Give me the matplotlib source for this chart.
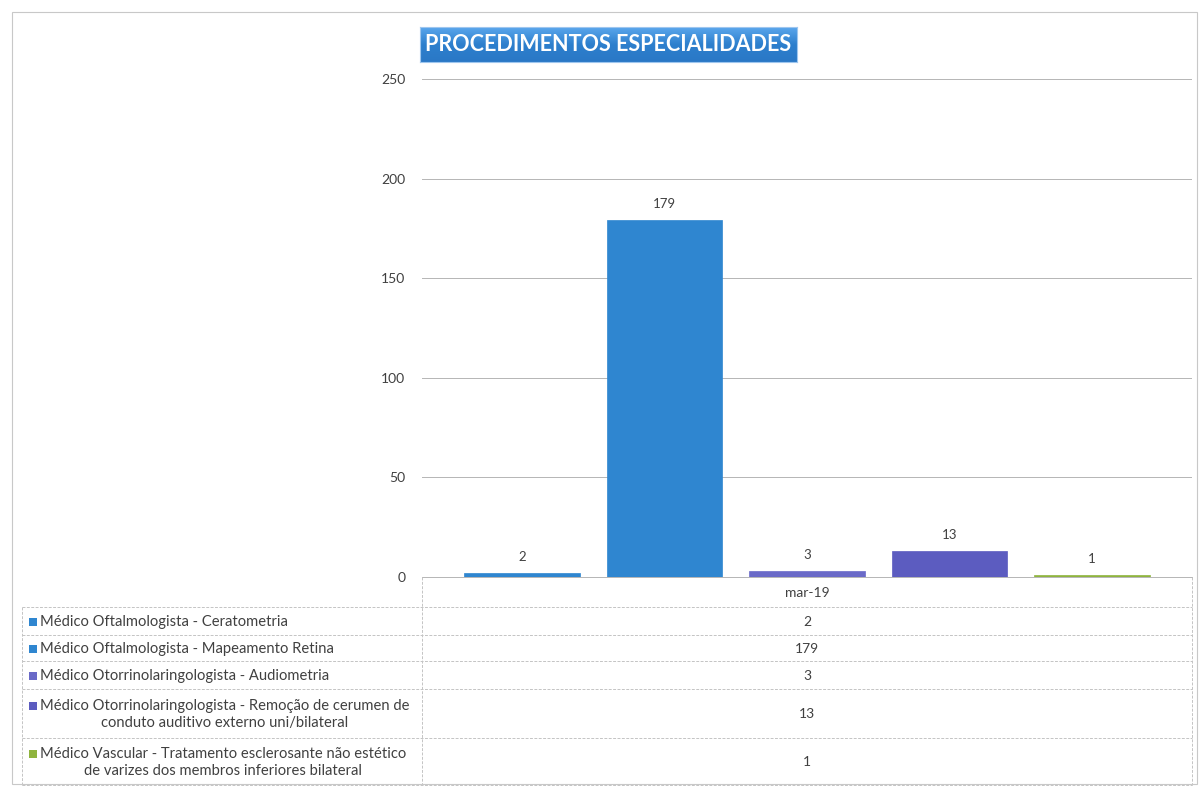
import matplotlib.pyplot as plt
import numpy as np
from matplotlib.patches import Rectangle
from matplotlib.colors import LinearSegmentedColormap

plt.rcParams['font.family'] = ['Lato', 'DejaVu Sans']

title = "PROCEDIMENTOS ESPECIALIDADES"
period = "mar-19"
series = [
    "Médico Oftalmologista - Ceratometria",
    "Médico Oftalmologista - Mapeamento Retina",
    "Médico Otorrinolaringologista - Audiometria",
    "Médico Otorrinolaringologista - Remoção de cerumen de\nconduto auditivo externo uni/bilateral",
    "Médico Vascular - Tratamento esclerosante não estético\nde varizes dos membros inferiores bilateral",
]
values = [2, 179, 3, 13, 1]
colors = ["#2f86d0", "#2f86d0", "#6a6ac8", "#5c5cc0", "#8fb43e"]
yticks = [0, 50, 100, 150, 200, 250]

W, H = 1199, 786
fig = plt.figure(figsize=(W / 100, H / 100), dpi=100)


def fx(px):
    return px / W


def fy(py):
    return 1 - py / H


# outer chart border
fig.add_artist(Rectangle((fx(12), fy(784)), fx(1185), 772 / H, transform=fig.transFigure,
                         fill=False, edgecolor="#c8c8c8", linewidth=0.8))

# main plot
ax = fig.add_axes([fx(422), fy(577), fx(770), (577 - 79) / H])
x = np.arange(len(values))
bars = ax.bar(x, values, width=0.81, color=colors, edgecolor=colors, linewidth=0.5, zorder=3)
for xi, v in zip(x, values):
    ax.text(xi, v + 5, str(v), ha="center", va="bottom", fontsize=9.5, color="#404040")
ax.set_ylim(0, 250)
ax.set_xlim(-0.70, 4.70)
ax.set_yticks(yticks)
ax.set_yticklabels([str(t) for t in yticks], fontsize=10, color="#404040")
ax.tick_params(axis="y", length=0, pad=12)
ax.set_xticks([])
ax.grid(axis="y", color="#b5b5b5", linewidth=0.7, zorder=0)
for s in ["top", "right", "left"]:
    ax.spines[s].set_visible(False)
ax.spines["bottom"].set_color("#b5b5b5")
ax.spines["bottom"].set_linewidth(0.7)

# title box with gradient
tax = fig.add_axes([fx(420), fy(62), fx(377), 35 / H])
grad = np.linspace(0, 1, 50).reshape(-1, 1)
cmap = LinearSegmentedColormap.from_list("tb", ["#5aa6ec", "#2d7fcd", "#2a78c6"])
tax.imshow(grad, aspect="auto", cmap=cmap, extent=[0, 1, 0, 1], origin="upper")
tax.set_xticks([])
tax.set_yticks([])
for s in tax.spines.values():
    s.set_color("#9ec6ee")
tax.text(0.5, 0.5, title, ha="center", va="center", fontsize=15.5, fontweight="bold",
         color="white", transform=tax.transAxes)

# data table below the plot
tb = fig.add_axes([0, 0, 1, 1], facecolor="none")
tb.set_xlim(0, W)
tb.set_ylim(H, 0)
tb.axis("off")
rows = [577, 607, 635, 661, 689, 738, 785]
lc = "#c4c4c4"
tb.plot([422, 422], [577, 785], color=lc, lw=0.7, ls=(0, (3, 1.5)))
tb.plot([1192, 1192], [577, 785], color=lc, lw=0.7, ls=(0, (3, 1.5)))
tb.plot([22, 22], [607, 785], color=lc, lw=0.7, ls=(0, (3, 1.5)))
for r in rows[1:]:
    tb.plot([22, 1192], [r, r], color=lc, lw=0.7, ls=(0, (3, 1.5)))
tb.text(807, (rows[0] + rows[1]) / 2 + 1, period, ha="center", va="center", fontsize=10, color="#404040")
for i, (lab, v, c) in enumerate(zip(series, values, colors)):
    yc = (rows[i + 1] + rows[i + 2]) / 2 + 1
    ytop = yc if "\n" not in lab else yc - 9
    tb.add_patch(Rectangle((29, ytop - 4), 8, 8, facecolor=c, edgecolor="none"))
    tb.text(40, yc, lab, ha="left", va="center", multialignment="center",
            fontsize=10.6, color="#404040", linespacing=1.35)
    tb.text(807, yc, str(v), ha="center", va="center", fontsize=10, color="#404040")

plt.savefig("out.png", dpi=100)
